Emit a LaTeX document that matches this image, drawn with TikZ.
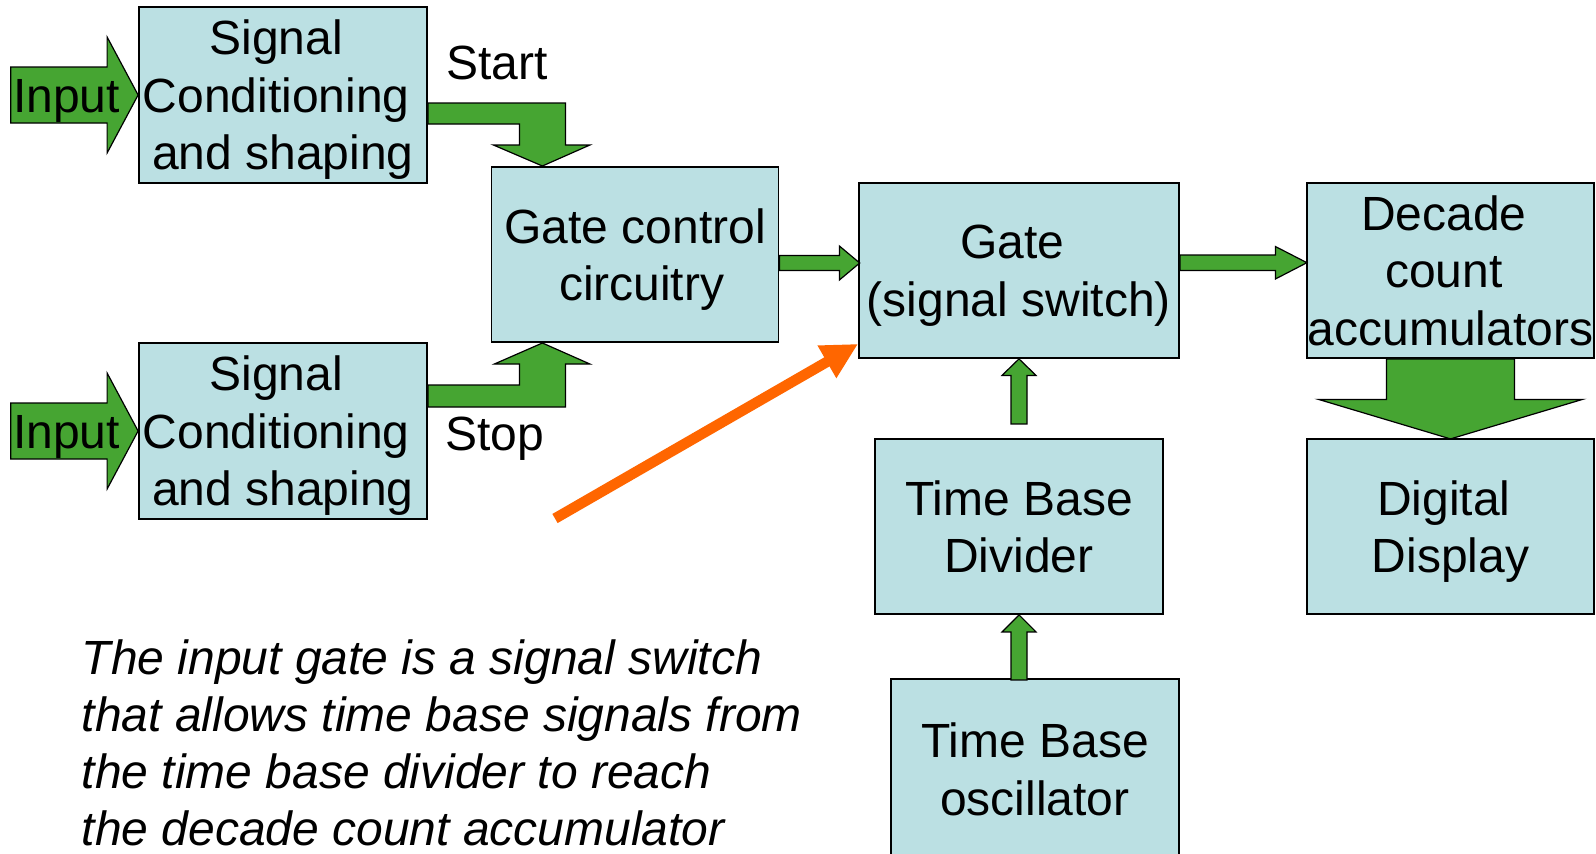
\documentclass[tikz,border=0pt]{standalone}
\usepackage{fontspec}
\setmainfont{Liberation Sans}
\usetikzlibrary{calc,arrows.meta}
\definecolor{boxblue}{HTML}{BBE0E3}
\definecolor{agreen}{HTML}{46A532}
\definecolor{pointer}{HTML}{FF6600}
% a space that survives at the end of a centred line
\newcommand{\tsp}{\hbox to 0.278em{}}
\begin{document}
\begin{tikzpicture}[x=1pt,y=-1pt,
  blk/.style={draw=black, line width=1.8pt, fill=boxblue, inner sep=0pt,
    text depth=0pt, align=center, font=\fontsize{48}{57.5}\selectfont},
  garrow/.style={draw=black, line width=1.2pt, fill=agreen, line join=miter},
  lbl/.style={inner sep=0pt, text depth=0pt, font=\fontsize{48}{57.5}\selectfont},
  pointer line/.style={draw=pointer, line width=10.5pt,
    -{Triangle[length=36pt,width=35pt]}}]
\clip (0,0) rectangle (1596,854);
\fill[white] (0,0) rectangle (1596,854);

% blocks
\node[blk, minimum width=288, minimum height=176] (sc1) at (283,95)
  {Signal\tsp\\Conditioning\tsp\\and shaping};
\node[blk, minimum width=288, minimum height=176] (sc2) at (283,431)
  {Signal\tsp\\Conditioning\tsp\\and shaping};
\node[blk, minimum width=287, minimum height=175] (gc) at (635,254.5)
  {Gate control\\\tsp circuitry};
\node[blk, minimum width=320, minimum height=175] (gate) at (1019,270.5)
  {Gate\tsp\\(signal switch)};
\node[blk, minimum width=287, minimum height=175] (dec) at (1450.5,270.5)
  {Decade\tsp\\count\tsp\\accumulators};
\node[blk, minimum width=287, minimum height=175] (disp) at (1450.5,526.5)
  {Digital\tsp\\Display};
\node[blk, minimum width=288, minimum height=175] (tbd) at (1019,526.5)
  {Time Base\\Divider};
\node[blk, minimum width=288, minimum height=180] (osc) at (1035,769)
  {Time Base\\oscillator};

% input block arrows
\draw[garrow] (sc1.west) -- ++(-31,-58) -- ++(0,30) -- ++(-96.3,0)
  -- ++(0,56) -- ++(96.3,0) -- ++(0,30) -- cycle;
\node[lbl] (in1) at (66.5,96) {Input};
\draw[garrow] (sc2.west) -- ++(-31,-58) -- ++(0,30) -- ++(-96.3,0)
  -- ++(0,56) -- ++(96.3,0) -- ++(0,30) -- cycle;
\node[lbl] (in2) at (66.5,432) {Input};

% start / stop bent arrows into the gate control
\draw[garrow] ($(sc1.east)+(0,8)$) -- ++(137.5,0) -- ++(0,42) -- ++(24.5,0)
  -- ++(-47.5,21) -- ++(-49,-21) -- ++(26,0) -- ++(0,-21) -- ++(-91.5,0) -- cycle;
\draw[garrow] ($(sc2.east)+(0,-46)$) -- ++(91.5,0) -- ++(0,-21) -- ++(-25,0)
  -- ++(48,-21) -- ++(47.5,21) -- ++(-24.5,0) -- ++(0,43) -- ++(-137.5,0) -- cycle;
\node[lbl] (start) at (497,63) {Start};
\node[lbl] (stop) at (495,434) {Stop};

% gate control -> gate
\draw[garrow] ($(gc.east)+(0,1)$) -- ++(60,0) -- ++(0,-9.5) -- ++(20.3,17)
  -- ++(-20.3,17) -- ++(0,-9.5) -- ++(-60,0) -- cycle;
% gate -> decade counters
\draw[garrow] ($(gate.east)+(0,-15.5)$) -- ++(95.5,0) -- ++(0,-8.5) -- ++(31.5,16.2)
  -- ++(-31.5,16.3) -- ++(0,-8.5) -- ++(-95.5,0) -- cycle;
% decade counters -> display
\draw[garrow] ($(dec.south)+(-64,0)$) -- ++(0,40.5) -- ++(-68,0) -- ++(132,39.5)
  -- ++(132,-39.5) -- ++(-68,0) -- ++(0,-40.5) -- cycle;
% divider -> gate
\draw[garrow] (gate.south) -- ++(17,16.5) -- ++(-9,0) -- ++(0,48.5) -- ++(-16,0)
  -- ++(0,-48.5) -- ++(-9,0) -- cycle;
% oscillator -> divider
\draw[garrow] (tbd.south) -- ++(17,17) -- ++(-9,0) -- ++(0,48) -- ++(-16,0)
  -- ++(0,-48) -- ++(-9,0) -- cycle;

% pointer to the gate
\coordinate (ptail) at (555,518.5);
\draw[pointer line] (ptail) -- ($(gate.south west)+(0,-15)$);

% note
\node[inner sep=0pt, anchor=west, align=left, font=\fontsize{48}{57}\itshape\selectfont] (note) at (81.5,743)
  {The input gate is a signal switch\\that allows time base signals from\\the time base divider to reach\\the decade count accumulator};
\end{tikzpicture}
\end{document}
